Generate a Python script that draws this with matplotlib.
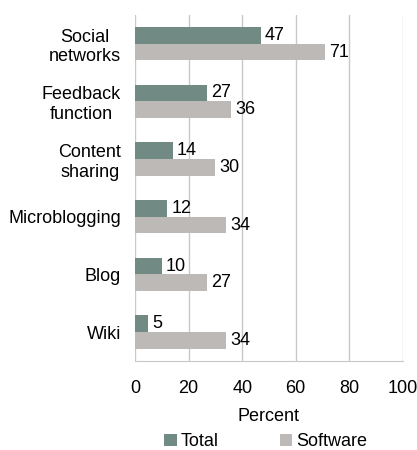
import matplotlib.pyplot as plt
import numpy as np

categories = ['Social\nnetworks', 'Feedback\nfunction', 'Content\nsharing',
              'Microblogging', 'Blog', 'Wiki']
total = [47, 27, 14, 12, 10, 5]
software = [71, 36, 30, 34, 27, 34]
xticks = [0, 20, 40, 60, 80, 100]

plt.rcParams['font.family'] = ['Liberation Sans', 'DejaVu Sans']
fs = 13

fig = plt.figure(figsize=(4.17, 4.5), dpi=100)
ax = fig.add_axes([0.324, 0.198, 0.642, 0.769])

y = np.arange(len(categories))
h = 0.29
ax.barh(y - h / 2, total, height=h, color='#718a84', label='Total', zorder=3)
ax.barh(y + h / 2, software, height=h, color='#bdb9b6', label='Software', zorder=3)

for yi, v in zip(y, total):
    ax.text(v + 1.5, yi - h / 2, str(v), va='center', ha='left', fontsize=fs)
for yi, v in zip(y, software):
    ax.text(v + 1.5, yi + h / 2, str(v), va='center', ha='left', fontsize=fs)

ax.set_ylim(len(categories) - 0.5, -0.5)
ax.set_xlim(0, 100)
ax.set_xticks(xticks)
ax.set_yticks(y)
ax.set_yticklabels(categories, fontsize=fs, multialignment='center')
ax.tick_params(axis='y', length=0, pad=10)
ax.tick_params(axis='x', length=0, pad=14, labelsize=fs)
ax.grid(axis='x', color='#c8c8c8', linewidth=1, zorder=0)
for s in ['top', 'right', 'left']:
    ax.spines[s].set_visible(False)
ax.spines['bottom'].set_color('#c8c8c8')
ax.set_xlabel('Percent', fontsize=fs, labelpad=8)

fig.legend(loc='lower center', bbox_to_anchor=(0.637, -0.005), ncol=2, frameon=False,
           fontsize=fs, handlelength=0.7, handleheight=0.7, handletextpad=0.2,
           columnspacing=3.4, borderaxespad=0, borderpad=0.1)

fig.savefig('out.png', dpi=100)
